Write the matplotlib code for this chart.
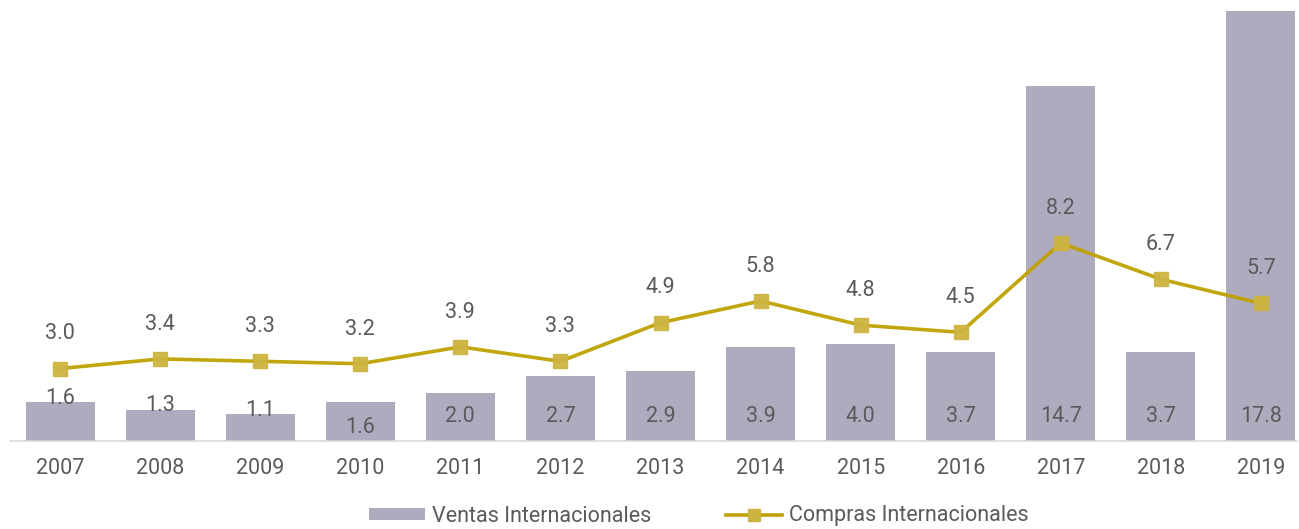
import matplotlib
matplotlib.use("Agg")
import numpy as np
from matplotlib import pyplot as plt
from matplotlib.patches import Patch
from matplotlib.lines import Line2D

# ---- data ----
years = ["2007", "2008", "2009", "2010", "2011", "2012", "2013",
         "2014", "2015", "2016", "2017", "2018", "2019"]
ventas = [1.6, 1.3, 1.1, 1.6, 2.0, 2.7, 2.9, 3.9, 4.0, 3.7, 14.7, 3.7, 17.8]
compras = [3.0, 3.4, 3.3, 3.2, 3.9, 3.3, 4.9, 5.8, 4.8, 4.5, 8.2, 6.7, 5.7]

bar_color = "#aeabbf"
line_color = "#bfa100"
marker_color = "#cdb440"
text_color = "#5a5a5a"

plt.rcParams['font.family'] = ['Roboto', 'DejaVu Sans']

fig = plt.figure(figsize=(12.99, 5.29), dpi=100)
ax = fig.add_axes([10 / 1299, 88 / 529, 1287 / 1299, 431 / 529])

x = np.arange(len(years))
ax.bar(x, ventas, width=0.69, color=bar_color, zorder=2)
ax.plot(x, compras, color=line_color, lw=2.6, marker='s', markersize=10,
        markerfacecolor=marker_color, markeredgecolor=marker_color, alpha=0.95, zorder=3)

# bar labels: small bars get the label on top, the rest inside near the base
for xi, v in zip(x, ventas):
    if v < 1.5 or xi == 0:
        ax.text(xi, v + 0.15, "%.1f" % v, ha='center', va='center', fontsize=15.5, color=text_color, zorder=4)
    elif v < 1.8:
        ax.text(xi, 0.55, "%.1f" % v, ha='center', va='center', fontsize=15.5, color=text_color, zorder=4)
    else:
        ax.text(xi, 1.0, "%.1f" % v, ha='center', va='center', fontsize=15.5, color=text_color, zorder=4)

# line labels above the points
for xi, v in zip(x, compras):
    ax.annotate("%.1f" % v, (xi, v), xytext=(0, 25), textcoords='offset points',
                ha='center', va='center', fontsize=15.5, color=text_color, zorder=4)

ax.set_xlim(-0.5, 12.36)
ax.set_ylim(0, 17.85)
ax.set_xticks(x)
ax.set_xticklabels(years, fontsize=15.5, color=text_color)
ax.tick_params(axis='x', length=0, pad=12)
ax.set_yticks([])
for side in ['top', 'right', 'left']:
    ax.spines[side].set_visible(False)
ax.spines['bottom'].set_color('#d9d9d9')
ax.spines['bottom'].set_linewidth(1.2)

handles = [Patch(facecolor=bar_color, edgecolor='none'),
           Line2D([0], [0], color=line_color, lw=2.6, marker='s', markersize=8,
                  markerfacecolor=marker_color, markeredgecolor=marker_color)]
fig.legend(handles, ["Ventas Internacionales", "Compras Internacionales"],
           loc='center', bbox_to_anchor=(0.538, 13 / 529), ncol=2, frameon=False,
           fontsize=15.5, labelcolor=text_color, handlelength=2.6, handleheight=0.5,
           handletextpad=0.3, columnspacing=3.5)

fig.savefig("out.png", dpi=100)
